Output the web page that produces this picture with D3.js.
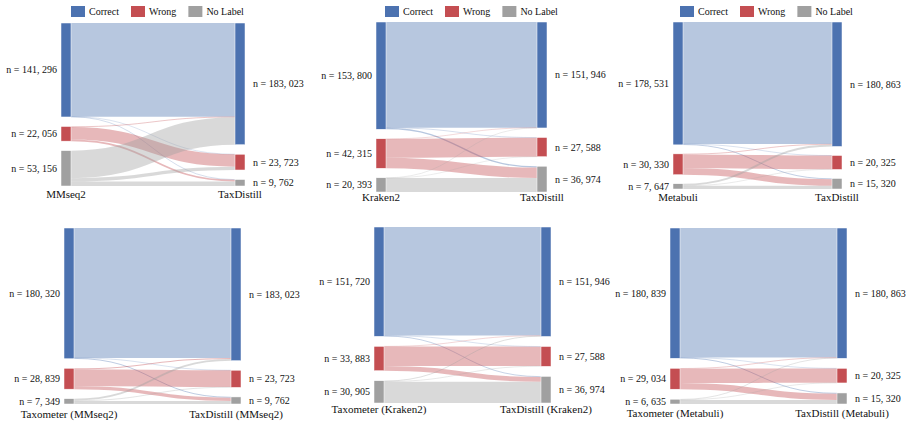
<!DOCTYPE html>
<html>
<head>
<meta charset="utf-8">
<script src="https://cdn.jsdelivr.net/npm/d3@7"></script>
<style>
  body { margin: 0; background: #fff; }
</style>
</head>
<body>
<svg id="chart"></svg>
<script>
// classes, same order in every panel
const categories = ["Correct", "Wrong", "No Label"];

const sourceNames = ["MMseq2", "Kraken2", "Metabuli",
  "Taxometer (MMseq2)", "Taxometer (Kraken2)", "Taxometer (Metabuli)"];
const targetNames = ["TaxDistill", "TaxDistill", "TaxDistill",
  "TaxDistill (MMseq2)", "TaxDistill (Kraken2)", "TaxDistill (Metabuli)"];

// flows[panel][source class][target class]
const flows = [
  [[140796, 100, 400], [900, 18656, 2500], [41327, 4967, 6862]],
  [[151500, 300, 2000], [200, 27188, 14927], [246, 100, 20047]],
  [[177331, 200, 1000], [800, 19825, 9705], [2732, 300, 4615]],
  [[179120, 200, 1000], [1400, 22923, 4516], [2503, 600, 4246]],
  [[150720, 200, 800], [300, 26988, 6595], [926, 400, 29579]],
  [[179639, 200, 1000], [600, 19825, 8609], [624, 300, 5711]]
];

const nodeColors = ["#4c72b0", "#c44e52", "#a0a0a0"];

const width = 909, height = 428;
const nodeW = 10;
const serif = "Liberation Serif";

// panel geometry
const panels = [
  { x0: 61,  x1: 235, y0: 23,  y1: 186, pad: 9.5, labelY: 198, legendX: 71 },
  { x0: 376, x1: 537, y0: 22,  y1: 192, pad: 9.5, labelY: 201, legendX: 385 },
  { x0: 673, x1: 832, y0: 22,  y1: 189, pad: 9,   labelY: 201, legendX: 680 },
  { x0: 64,  x1: 231, y0: 228, y1: 404, pad: 9.5, labelY: 418 },
  { x0: 374, x1: 541, y0: 227, y1: 403, pad: 10,  labelY: 413 },
  { x0: 670, x1: 837, y0: 228, y1: 404, pad: 10,  labelY: 417 }
];

const svg = d3.select("#chart")
    .attr("width", width)
    .attr("height", height);

svg.append("rect").attr("width", width).attr("height", height).attr("fill", "#fff");

const fmt = v => "n = " + d3.format(",")(v).replace(/,/g, ", ");

const label = (sel, size) => sel
    .style("font-family", serif)
    .attr("font-size", size)
    .attr("fill", "#111");

panels.forEach((p, i) => {
    const g = svg.append("g");
    const m = flows[i];
    const srcTotals = m.map(r => d3.sum(r));
    const tgtTotals = categories.map((_, j) => d3.sum(m, r => r[j]));
    const total = d3.sum(srcTotals);

    const k = d3.scaleLinear()
        .domain([0, total])
        .range([0, p.y1 - p.y0 - 2 * p.pad]);

    const stack = vals => {
        let y = p.y0;
        return vals.map((v, j) => {
            const n = { j, v, y0: y, y1: y + k(v) };
            y = n.y1 + p.pad;
            return n;
        });
    };
    const src = stack(srcTotals);
    const tgt = stack(tgtTotals);

    // links, stacked in class order at both ends
    const links = [];
    m.forEach((row, s) => row.forEach((v, t) => links.push({ s, t, v })));
    const sOff = src.map(n => n.y0), tOff = tgt.map(n => n.y0);
    links.forEach(l => {
        l.w = k(l.v);
        l.ys = sOff[l.s] + l.w / 2; sOff[l.s] += l.w;
        l.yt = tOff[l.t] + l.w / 2; tOff[l.t] += l.w;
    });

    const link = d3.linkHorizontal()
        .source(d => [p.x0 + nodeW, d.ys])
        .target(d => [p.x1, d.yt]);

    g.append("g").selectAll("path")
        .data(links)
        .join("path")
            .attr("d", link)
            .attr("fill", "none")
            .attr("stroke", d => nodeColors[d.s])
            .attr("stroke-opacity", d => d.w < 1 ? 0.25 + 0.35 * d.w : 0.4)
            .attr("stroke-width", d => Math.max(0.7, d.w));

    // nodes
    const drawNodes = (nodes, x) => g.append("g").selectAll("rect")
        .data(nodes)
        .join("rect")
            .attr("x", x)
            .attr("y", d => d.y0)
            .attr("width", nodeW)
            .attr("height", d => Math.max(1, d.y1 - d.y0))
            .attr("fill", d => nodeColors[d.j])
            .attr("stroke", "#fff")
            .attr("stroke-width", 0.5);
    drawNodes(src, p.x0);
    drawNodes(tgt, p.x1);

    // value labels
    g.append("g").selectAll("text")
        .data(src)
        .join("text")
            .attr("x", p.x0 - 4)
            .attr("y", d => (d.y0 + d.y1) / 2)
            .attr("dy", "0.35em")
            .attr("text-anchor", "end")
            .call(label, 10)
            .text(d => fmt(d.v));
    g.append("g").selectAll("text")
        .data(tgt)
        .join("text")
            .attr("x", p.x1 + nodeW + 8)
            .attr("y", d => (d.y0 + d.y1) / 2)
            .attr("dy", "0.35em")
            .attr("text-anchor", "start")
            .call(label, 10)
            .text(d => fmt(d.v));

    // column names
    g.append("text")
        .attr("x", p.x0 + nodeW / 2)
        .attr("y", p.labelY)
        .attr("text-anchor", "middle")
        .call(label, 11)
        .text(sourceNames[i]);
    g.append("text")
        .attr("x", p.x1 + nodeW / 2)
        .attr("y", p.labelY)
        .attr("text-anchor", "middle")
        .call(label, 11)
        .text(targetNames[i]);

    // legend (top row only)
    if (p.legendX !== undefined) {
        const lg = g.append("g").attr("transform", `translate(${p.legendX}, 6)`);
        let x = 0;
        categories.forEach((c, j) => {
            lg.append("rect")
                .attr("x", x).attr("y", 0)
                .attr("width", 14).attr("height", 11)
                .attr("fill", nodeColors[j]);
            const t = lg.append("text")
                .attr("x", x + 18)
                .attr("y", 9)
                .call(label, 10)
                .text(c);
            x += 18 + t.node().getComputedTextLength() + 12;
        });
    }
});
</script>
</body>
</html>
